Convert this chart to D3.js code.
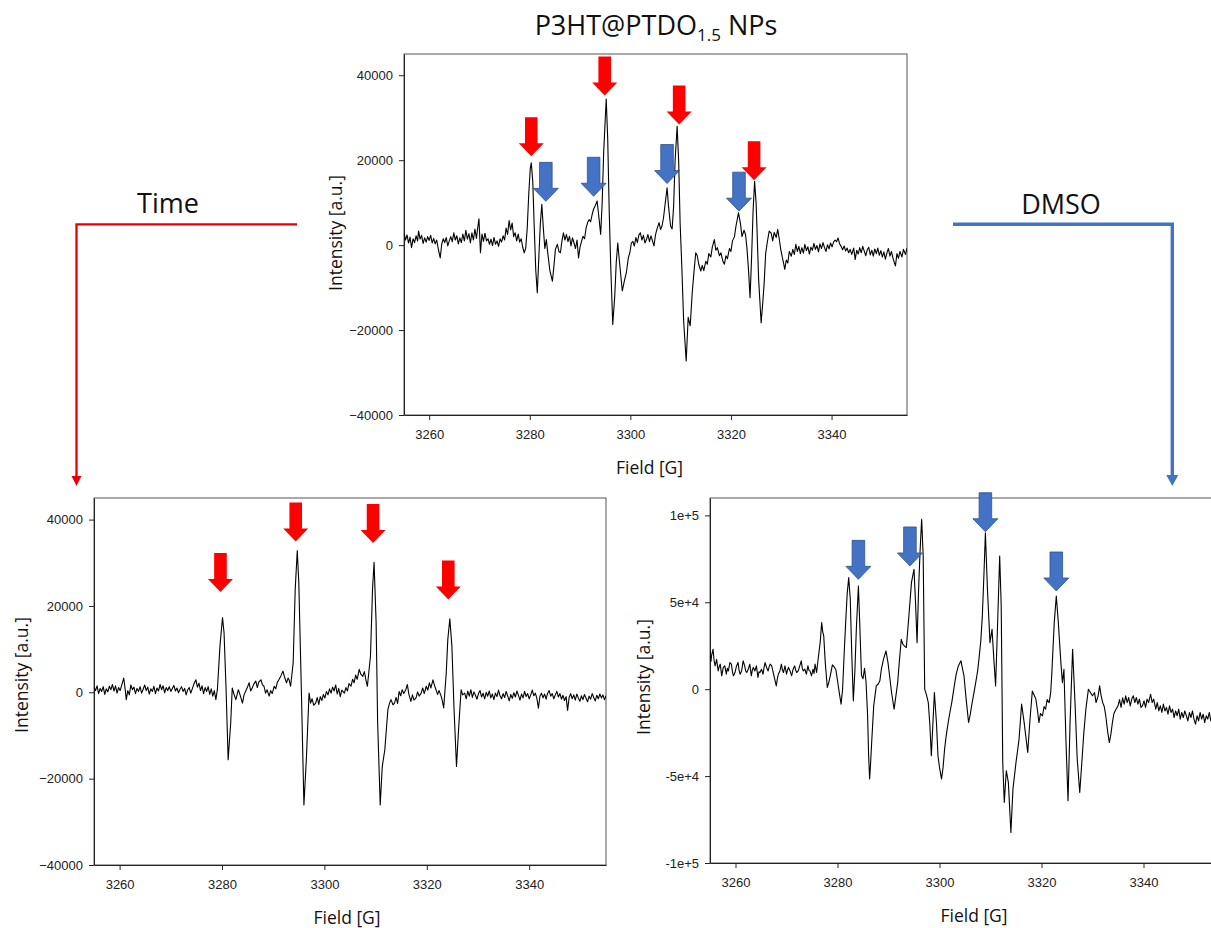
<!DOCTYPE html>
<html>
<head>
<meta charset="utf-8">
<script src="https://d3js.org/d3.v7.min.js"></script>
<style>
  body { margin: 0; background: #fff; }
  svg { display: block; }
</style>
</head>
<body>
<svg id="chart" width="1211" height="928"></svg>
<script>
// ---- data (field in G, intensity in a.u.) ----
const fieldTicks = [3260, 3280, 3300, 3320, 3340];
const npsTicks = [-40000, -20000, 0, 20000, 40000];
const dmsoTicks = [-100000, -50000, 0, 50000, 100000];
const dmsoTickLabels = ["-1e+5", "-5e+4", "0", "5e+4", "1e+5"];

// P3HT@PTDO1.5 NPs (top)
const spectrumNPs = [[3255.0,2900],[3255.3,1200],[3255.6,2400],[3255.9,500],[3256.2,1900],[3256.5,-600],[3256.8,1500],[3257.1,600],[3257.4,2200],[3257.7,1000],[3257.9,3300],[3258.2,1400],[3258.5,2300],[3258.8,400],[3259.1,1700],[3259.4,700],[3259.7,2000],[3260.0,1100],[3260.3,2300],[3260.6,500],[3260.9,1600],[3261.2,300],[3261.5,1200],[3261.8,-800],[3262.2,-3000],[3262.5,200],[3262.8,1500],[3263.1,600],[3263.4,1800],[3263.7,-200],[3264.0,1000],[3264.3,2000],[3264.6,800],[3264.9,2900],[3265.2,1200],[3265.5,2200],[3265.8,300],[3266.1,1700],[3266.4,600],[3266.7,2600],[3267.0,1000],[3267.3,3500],[3267.6,1400],[3267.9,2700],[3268.2,500],[3268.5,2900],[3268.8,1200],[3269.1,3800],[3269.4,1600],[3269.7,4500],[3269.9,6200],[3270.2,-1800],[3270.5,2600],[3270.8,900],[3271.1,2800],[3271.4,1000],[3271.7,1500],[3272.0,200],[3272.3,1400],[3272.6,-100],[3272.9,1800],[3273.2,200],[3273.5,1000],[3273.8,-300],[3274.1,1500],[3274.4,700],[3274.7,2200],[3275.0,1200],[3275.3,4000],[3275.6,2500],[3275.9,5800],[3276.2,3600],[3276.5,5200],[3276.8,2000],[3277.1,2900],[3277.4,1000],[3277.7,2600],[3278.0,700],[3278.3,1500],[3278.6,-500],[3278.9,-1800],[3279.2,-700],[3279.5,4000],[3279.8,12000],[3280.1,18000],[3280.3,19400],[3280.6,15000],[3280.9,4000],[3281.2,-6000],[3281.5,-11200],[3281.8,-3000],[3282.1,5000],[3282.4,9600],[3282.7,4000],[3283.0,-800],[3283.3,1300],[3283.6,-2000],[3284.0,-6000],[3284.5,-8500],[3284.8,-5000],[3285.1,-1000],[3285.5,200],[3285.8,-1500],[3286.1,-1800],[3286.4,1000],[3286.7,2900],[3287.0,1200],[3287.3,2500],[3287.6,800],[3287.9,2100],[3288.2,-200],[3288.5,1700],[3288.8,500],[3289.1,-800],[3289.4,1200],[3289.7,-3000],[3290.0,-400],[3290.3,900],[3290.6,2100],[3290.9,1500],[3291.2,4000],[3291.5,5300],[3291.8,6000],[3292.1,5500],[3292.4,7200],[3292.7,8500],[3293.0,9200],[3293.4,10400],[3293.8,6000],[3294.1,2500],[3294.4,10000],[3294.7,22000],[3295.2,34400],[3295.5,25000],[3295.8,8000],[3296.1,-5000],[3296.5,-18700],[3296.9,-12000],[3297.2,-4000],[3297.5,500],[3297.8,-3500],[3298.4,-10800],[3298.8,-8500],[3299.2,-6500],[3299.6,-3000],[3299.9,-1800],[3300.2,500],[3300.5,900],[3300.8,-200],[3301.1,1800],[3301.4,600],[3301.7,2400],[3302.0,2900],[3302.3,1200],[3302.6,2300],[3302.9,500],[3303.2,1300],[3303.5,2500],[3303.8,800],[3304.1,2200],[3304.4,1000],[3304.7,-200],[3305.0,2400],[3305.3,3800],[3305.7,5300],[3306.0,3700],[3306.3,4500],[3306.6,6500],[3306.9,9500],[3307.3,13500],[3307.6,9000],[3308.0,4500],[3308.3,3800],[3308.6,9000],[3308.9,20000],[3309.3,28000],[3309.6,20000],[3309.9,5000],[3310.2,-4000],[3310.6,-18000],[3311.1,-27300],[3311.5,-17000],[3311.9,-19000],[3312.3,-11200],[3312.6,-7000],[3313.0,-1800],[3313.3,-2500],[3313.6,-4500],[3314.0,-6100],[3314.3,-4800],[3314.6,-6000],[3315.0,-3800],[3315.3,-4500],[3315.6,-2000],[3316.0,-2800],[3316.3,-400],[3316.7,1300],[3317.0,-1200],[3317.3,-600],[3317.7,-2500],[3318.0,-1800],[3318.4,-3800],[3318.7,-4500],[3319.0,-2500],[3319.3,-3200],[3319.7,-800],[3320.0,-1500],[3320.3,1000],[3320.7,2000],[3321.0,4500],[3321.5,7600],[3321.9,5000],[3322.2,2000],[3322.6,3500],[3322.9,2500],[3323.2,-1000],[3323.5,-6000],[3323.8,-12400],[3324.1,-3000],[3324.4,8000],[3324.7,15000],[3325.0,10000],[3325.2,3000],[3325.5,-8000],[3326.0,-18300],[3326.3,-14000],[3326.6,-9000],[3326.9,-2000],[3327.2,500],[3327.6,3300],[3328.0,2800],[3328.3,1000],[3328.6,3000],[3329.0,1800],[3329.3,3700],[3329.6,1500],[3329.9,-1000],[3330.2,-2800],[3330.5,-4500],[3330.7,-5700],[3331.0,-3500],[3331.3,-4200],[3331.6,-1500],[3332.0,-2600],[3332.3,-1000],[3332.6,-2200],[3332.9,200],[3333.2,-1500],[3333.5,-300],[3333.8,-2000],[3334.1,-600],[3334.4,-1900],[3334.7,200],[3335.0,-1300],[3335.3,-400],[3335.6,-2100],[3335.9,-500],[3336.2,-1200],[3336.5,400],[3336.8,-1000],[3337.1,-100],[3337.4,-1600],[3337.7,300],[3338.0,-800],[3338.3,600],[3338.6,-600],[3338.9,-1500],[3339.2,100],[3339.5,-900],[3339.8,500],[3340.1,-400],[3340.4,700],[3340.7,1200],[3341.0,800],[3341.3,1700],[3341.6,300],[3341.9,-300],[3342.2,-1100],[3342.5,-200],[3342.8,-1400],[3343.1,-700],[3343.4,-1800],[3343.7,-1000],[3344.0,-2200],[3344.4,-700],[3344.7,-3400],[3345.0,-1200],[3345.3,-2100],[3345.6,-600],[3345.9,-1800],[3346.2,-300],[3346.5,-1400],[3346.8,-2500],[3347.1,-1100],[3347.4,-500],[3347.7,-2300],[3348.0,-1200],[3348.3,-2600],[3348.6,-900],[3348.9,-2000],[3349.2,-700],[3349.5,-2400],[3349.8,-1300],[3350.1,-2800],[3350.4,-1600],[3350.7,-3300],[3351.0,-1900],[3351.3,-800],[3351.6,-2600],[3351.9,-1500],[3352.2,-3000],[3352.5,-4200],[3352.7,-4900],[3353.0,-2000],[3353.3,-3100],[3353.6,-1500],[3354.0,-2800],[3354.3,-1000],[3354.7,-2200],[3355.0,-700]];

// after time (bottom left)
const spectrumTime = [[3255.0,1200],[3255.3,400],[3255.6,1500],[3255.9,-300],[3256.2,900],[3256.5,200],[3256.8,1300],[3257.1,-500],[3257.4,800],[3257.7,100],[3258.0,1400],[3258.3,600],[3258.6,1800],[3258.9,300],[3259.2,1500],[3259.5,-200],[3259.8,1100],[3260.1,400],[3260.5,2000],[3260.8,3300],[3261.1,600],[3261.3,-1700],[3261.6,400],[3261.9,-600],[3262.2,1700],[3262.5,600],[3262.8,1200],[3263.1,-300],[3263.4,900],[3263.7,200],[3264.0,1300],[3264.3,-200],[3264.6,700],[3264.9,1700],[3265.2,400],[3265.5,1200],[3265.8,-400],[3266.1,800],[3266.4,200],[3266.7,1400],[3267.0,-300],[3267.3,1000],[3267.6,300],[3267.9,1800],[3268.2,600],[3268.5,1500],[3268.8,-100],[3269.1,1100],[3269.4,400],[3269.7,1300],[3270.0,200],[3270.3,900],[3270.6,1600],[3270.9,300],[3271.2,1000],[3271.5,-100],[3271.8,700],[3272.1,1300],[3272.4,200],[3272.7,900],[3273.0,-600],[3273.3,600],[3273.6,1100],[3273.9,-200],[3274.2,800],[3274.5,1900],[3274.9,2900],[3275.2,1200],[3275.5,2100],[3275.8,400],[3276.1,1500],[3276.4,-300],[3276.7,1100],[3277.0,200],[3277.3,1300],[3277.6,-500],[3277.9,800],[3278.2,-900],[3278.5,400],[3278.8,-1700],[3279.1,600],[3279.6,10700],[3280.1,17300],[3280.4,13800],[3280.8,600],[3281.2,-15600],[3281.7,-7100],[3282.0,1000],[3282.3,-300],[3282.7,-1700],[3283.2,600],[3283.6,-900],[3284.0,-2500],[3284.3,-600],[3284.6,200],[3285.0,1300],[3285.3,2200],[3285.6,300],[3285.9,1000],[3286.2,1900],[3286.6,2600],[3286.9,1100],[3287.2,2400],[3287.6,2900],[3287.9,1700],[3288.2,1400],[3288.5,-200],[3288.8,600],[3289.2,-900],[3289.5,400],[3289.8,-300],[3290.2,1400],[3290.5,800],[3290.8,2300],[3291.1,2900],[3291.5,3800],[3291.9,4900],[3292.2,3600],[3292.6,2200],[3292.9,3300],[3293.1,2900],[3293.4,1400],[3293.9,6800],[3294.3,23900],[3294.7,32800],[3295.0,25400],[3295.5,600],[3296.0,-26100],[3296.5,-14900],[3297.0,-200],[3297.3,-2500],[3297.6,-1500],[3297.9,-3000],[3298.3,-2500],[3298.6,-1200],[3298.9,-2800],[3299.2,-1000],[3299.5,-1900],[3299.8,-500],[3300.1,-1300],[3300.4,200],[3300.7,-600],[3301.0,800],[3301.3,-200],[3301.6,1200],[3301.9,300],[3302.2,1700],[3302.5,-400],[3302.8,900],[3303.1,-1000],[3303.4,500],[3303.9,-200],[3304.2,1100],[3304.5,300],[3304.8,2000],[3305.2,1400],[3305.5,3000],[3305.8,2200],[3306.1,4000],[3306.4,3000],[3306.8,5300],[3307.1,4200],[3307.5,3700],[3307.8,4800],[3308.1,2900],[3308.4,1400],[3309.0,8400],[3309.4,23900],[3309.7,30100],[3310.1,16100],[3310.4,-7100],[3310.9,-26100],[3311.3,-17200],[3311.8,-13300],[3312.4,-4000],[3312.7,-2600],[3313.0,-1700],[3313.4,-2900],[3313.7,-2500],[3314.0,-1200],[3314.3,-2600],[3314.6,200],[3314.9,-800],[3315.2,600],[3315.5,-300],[3315.9,600],[3316.2,1800],[3316.5,-500],[3316.9,-2100],[3317.2,-600],[3317.5,-1800],[3317.9,-1300],[3318.2,100],[3318.5,-900],[3318.9,-200],[3319.2,1000],[3319.5,-300],[3319.9,1400],[3320.2,500],[3320.5,2200],[3320.8,1000],[3321.2,2900],[3321.5,1600],[3321.8,600],[3322.1,-500],[3322.4,400],[3322.8,-900],[3323.0,-1800],[3323.3,-3600],[3323.8,4500],[3324.1,12200],[3324.5,17000],[3324.9,10700],[3325.3,-3300],[3325.8,-17200],[3326.2,-8700],[3326.7,600],[3327.0,-600],[3327.4,-200],[3327.7,-1500],[3328.0,300],[3328.3,-900],[3328.6,600],[3328.9,-1200],[3329.2,100],[3329.5,-700],[3329.8,-1600],[3330.1,-300],[3330.4,400],[3330.7,-1100],[3331.0,-200],[3331.3,-1500],[3331.6,0],[3331.9,-900],[3332.2,300],[3332.5,-1300],[3332.8,-400],[3333.1,-1700],[3333.4,-200],[3333.7,-1000],[3334.0,500],[3334.3,-800],[3334.6,-1500],[3334.9,-300],[3335.2,-1200],[3335.5,200],[3335.8,-900],[3336.1,-2000],[3336.4,-500],[3336.7,-1400],[3337.0,-100],[3337.3,-1100],[3337.6,300],[3337.9,-700],[3338.2,-1800],[3338.5,-400],[3338.8,-1300],[3339.1,200],[3339.4,-1000],[3339.7,-300],[3340.0,-1500],[3340.3,-600],[3340.6,500],[3340.9,-800],[3341.2,-200],[3341.5,-1400],[3341.8,-3700],[3342.1,-900],[3342.4,-200],[3342.7,-1300],[3343.0,-400],[3343.3,-1600],[3343.6,-200],[3343.9,400],[3344.2,-900],[3344.5,-300],[3344.8,-1500],[3345.1,-600],[3345.4,200],[3345.7,-1100],[3346.0,-300],[3346.3,-1600],[3346.6,-700],[3346.9,-1900],[3347.2,-1000],[3347.5,-4200],[3347.8,-1200],[3348.1,-300],[3348.4,-1500],[3348.7,-600],[3349.0,-1800],[3349.3,-400],[3349.6,-1300],[3349.9,-2100],[3350.2,-800],[3350.5,-1700],[3350.8,-500],[3351.1,-1400],[3351.4,-2200],[3351.7,-900],[3352.0,-1600],[3352.3,-300],[3352.6,-1200],[3352.9,-2000],[3353.2,-700],[3353.5,-1500],[3353.8,-400],[3354.1,-1300],[3354.4,-600],[3354.7,-1700],[3355.0,-800]];

// after DMSO (bottom right)
const spectrumDMSO = [[3255.0,22000],[3255.2,16000],[3255.3,19200],[3255.6,23000],[3255.8,16500],[3256.0,13400],[3256.3,17200],[3256.6,10500],[3256.8,13000],[3257.0,14400],[3257.3,7700],[3257.6,12500],[3257.9,13400],[3258.2,8600],[3258.4,12000],[3258.6,10500],[3258.9,15300],[3259.2,14400],[3259.4,10000],[3259.6,7700],[3259.9,9600],[3260.2,13400],[3260.5,15300],[3260.7,11000],[3260.9,8600],[3261.2,10500],[3261.5,16300],[3261.8,13400],[3262.0,10500],[3262.2,9600],[3262.5,11500],[3262.8,14400],[3263.1,7700],[3263.3,11000],[3263.5,12500],[3263.8,10500],[3264.1,13400],[3264.4,6700],[3264.6,10000],[3264.8,9600],[3265.1,11500],[3265.4,8600],[3265.6,12500],[3265.8,15300],[3266.1,12500],[3266.4,10500],[3266.6,13000],[3266.8,14400],[3267.1,13400],[3267.4,9600],[3267.7,5700],[3268.0,1900],[3268.2,6000],[3268.4,8600],[3268.7,10500],[3269.0,14400],[3269.2,11000],[3269.4,9600],[3269.7,13400],[3270.0,8600],[3270.2,11000],[3270.4,12500],[3270.7,10500],[3271.0,7700],[3271.3,11500],[3271.6,13400],[3271.8,11000],[3272.0,9600],[3272.3,10500],[3272.6,13400],[3272.9,16300],[3273.1,12000],[3273.3,10500],[3273.6,11500],[3273.9,8600],[3274.2,13400],[3274.4,11000],[3274.6,10500],[3274.9,7700],[3275.2,11500],[3275.4,9000],[3275.6,14400],[3275.9,9600],[3276.2,17200],[3276.6,26800],[3276.9,38300],[3277.1,33000],[3277.3,30700],[3277.6,15300],[3278.0,1000],[3278.3,4000],[3278.6,8000],[3279.0,14000],[3279.3,13000],[3279.7,11000],[3280.0,5000],[3280.4,-3000],[3280.7,-8600],[3281.0,0],[3281.3,20000],[3281.6,38300],[3281.9,55000],[3282.2,64200],[3282.5,52000],[3282.8,20000],[3283.1,-6700],[3283.4,10000],[3283.7,35000],[3284.1,59400],[3284.4,34500],[3284.7,8000],[3285.0,6000],[3285.3,12000],[3285.6,4000],[3285.9,-15000],[3286.1,-38000],[3286.3,-51700],[3286.5,-42000],[3286.7,-30700],[3287.1,-9600],[3287.6,1900],[3288.0,3000],[3288.3,4800],[3288.6,11500],[3289.0,17000],[3289.5,22000],[3289.9,15300],[3290.2,8000],[3290.6,-1900],[3291.1,-11500],[3291.4,-5000],[3291.8,3800],[3292.1,15000],[3292.5,28700],[3292.8,26000],[3293.1,24900],[3293.5,24000],[3294.0,42200],[3294.5,61300],[3295.0,69000],[3295.3,49800],[3295.6,26800],[3295.9,57500],[3296.2,80000],[3296.5,97700],[3296.8,76600],[3297.1,0],[3297.5,-3800],[3297.8,-7700],[3298.1,-20000],[3298.4,-38300],[3298.7,-20000],[3299.0,-1900],[3299.4,-19200],[3299.7,-38300],[3300.0,-45000],[3300.4,-51700],[3300.7,-45000],[3301.0,-34500],[3301.3,-27000],[3301.7,-19200],[3302.0,-14000],[3302.4,-7700],[3302.7,-2000],[3303.0,3800],[3303.3,9000],[3303.7,13400],[3304.2,16300],[3304.5,12000],[3304.8,7700],[3305.2,-5000],[3305.7,-19200],[3306.0,-15000],[3306.4,-7700],[3306.7,-3000],[3307.1,3800],[3307.5,11000],[3307.8,19200],[3308.1,28000],[3308.4,42200],[3308.7,65000],[3309.0,90000],[3309.4,57500],[3309.9,26800],[3310.3,34500],[3310.7,15300],[3311.0,1900],[3311.4,38300],[3311.8,76600],[3312.1,47900],[3312.4,-42100],[3312.7,-65100],[3313.1,-46900],[3313.5,-53600],[3314.0,-82400],[3314.4,-57500],[3315.0,-42100],[3315.6,-28700],[3316.1,-8600],[3316.6,-19200],[3317.3,-36400],[3317.7,-19200],[3318.2,-1000],[3318.5,-3000],[3318.9,-5700],[3319.2,-12000],[3319.5,-19200],[3319.8,-14000],[3320.2,-15300],[3320.5,-10000],[3320.8,-11500],[3321.1,-6000],[3321.5,-7700],[3321.8,-2000],[3322.0,7700],[3322.5,38300],[3322.9,53600],[3323.3,38300],[3323.8,15300],[3324.1,3800],[3324.4,11500],[3324.8,-30000],[3325.2,-64200],[3325.6,-19200],[3326.1,23000],[3326.6,-9600],[3327.0,-40000],[3327.5,-59400],[3328.0,-38300],[3328.3,-25000],[3328.7,-11500],[3329.2,0],[3329.6,-1900],[3330.0,-3800],[3330.4,-1900],[3330.7,-7700],[3331.1,-3800],[3331.4,1900],[3331.7,-3800],[3332.0,-7700],[3332.3,-10000],[3332.6,-15300],[3333.0,-25000],[3333.3,-30700],[3333.6,-26000],[3333.9,-19200],[3334.2,-14000],[3334.6,-11500],[3335.0,-9600],[3335.3,-6000],[3335.6,-10500],[3335.9,-5000],[3336.2,-8600],[3336.5,-3800],[3336.8,-7700],[3337.1,-4800],[3337.4,-9600],[3337.7,-5700],[3338.0,-3800],[3338.3,-7700],[3338.6,-4800],[3338.9,-8600],[3339.2,-5700],[3339.5,-10500],[3339.8,-9600],[3340.1,-6700],[3340.4,-10500],[3340.7,-5700],[3341.0,-7700],[3341.4,-2900],[3341.7,-7700],[3342.0,-5700],[3342.4,-11500],[3342.7,-7700],[3343.0,-12500],[3343.3,-9600],[3343.6,-13400],[3343.9,-8600],[3344.2,-12500],[3344.5,-10500],[3344.8,-14400],[3345.1,-9600],[3345.4,-13400],[3345.7,-11500],[3346.0,-16300],[3346.3,-12500],[3346.6,-15300],[3346.9,-11500],[3347.2,-17200],[3347.5,-13400],[3347.8,-16300],[3348.1,-12500],[3348.4,-15300],[3348.7,-18200],[3349.0,-13400],[3349.3,-16300],[3349.6,-12500],[3349.9,-17200],[3350.2,-20100],[3350.5,-15300],[3350.8,-18200],[3351.1,-13400],[3351.4,-17200],[3351.7,-14400],[3352.0,-19200],[3352.3,-15300],[3352.6,-17200],[3352.9,-13400],[3353.2,-18200],[3353.5,-14400],[3353.9,-16300],[3354.2,-12500],[3354.6,-15300],[3355.0,-13400]];

// block arrows: [field, intensity at the tip]
const arrowsNPsRed = [[3280.3, 20900], [3294.9, 35200], [3309.7, 28400], [3324.6, 15300]];
const arrowsNPsBlue = [[3283.2, 10300], [3292.7, 11500], [3307.3, 14500], [3321.6, 8000]];
const arrowsTimeRed = [[3279.7, 23250], [3294.4, 34900], [3309.5, 34600], [3324.2, 21500]];
const arrowsDMSOBlue = [[3284.1, 63200], [3294.2, 70900], [3309.0, 90600], [3322.9, 56500]];

const RED = "#ff0000";
const BLUE = "#4472c4";
const textFont = "'Open Sans', sans-serif";
const tickFont = "'Liberation Sans', Arial, sans-serif";

const svg = d3.select("#chart");
const fieldDomain = [3255, 3355];

function blockArrow(g, x, y, color, stroke) {
  const sw = 6.3, hw = 12.5, hh = 13, len = 39;
  const p = d3.path();
  p.moveTo(x - sw, y - len);
  p.lineTo(x + sw, y - len);
  p.lineTo(x + sw, y - hh);
  p.lineTo(x + hw, y - hh);
  p.lineTo(x, y);
  p.lineTo(x - hw, y - hh);
  p.lineTo(x - sw, y - hh);
  p.closePath();
  g.append("path").attr("d", p.toString())
    .attr("fill", color)
    .attr("stroke", stroke || "none")
    .attr("stroke-width", 0.8);
}

function drawPanel(cfg) {
  const x = d3.scaleLinear().domain(fieldDomain).range([cfg.left, cfg.right]);
  const y = d3.scaleLinear().domain(cfg.yDomain).range([cfg.bottom, cfg.top]);
  const g = svg.append("g");

  g.append("clipPath").attr("id", cfg.id + "-clip")
    .append("rect")
    .attr("x", cfg.left).attr("y", cfg.top)
    .attr("width", cfg.right - cfg.left).attr("height", cfg.bottom - cfg.top);

  // frame
  g.append("rect")
    .attr("x", cfg.left).attr("y", cfg.top)
    .attr("width", cfg.right - cfg.left).attr("height", cfg.bottom - cfg.top)
    .attr("fill", "none").attr("stroke", "#555").attr("stroke-width", 1);

  const xAxis = d3.axisBottom(x).tickValues(fieldTicks).tickFormat(d3.format("d"))
    .tickSize(5).tickSizeOuter(0).tickPadding(10);
  const yAxis = d3.axisLeft(y).tickValues(cfg.yTicks).tickSize(5).tickSizeOuter(0).tickPadding(6)
    .tickFormat(cfg.yLabels ? (d, i) => cfg.yLabels[i] : d3.format("d"));

  const gx = g.append("g").attr("transform", `translate(0,${cfg.bottom})`).call(xAxis);
  const gy = g.append("g").attr("transform", `translate(${cfg.left},0)`).call(yAxis);
  [gx, gy].forEach(a => {
    a.selectAll("text").attr("font-family", tickFont).attr("font-size", 13).attr("fill", "#222");
    a.selectAll("line, path").attr("stroke", "#222");
  });

  const line = d3.line().x(d => x(d[0])).y(d => y(d[1]));
  g.append("path").datum(cfg.data)
    .attr("clip-path", `url(#${cfg.id}-clip)`)
    .attr("d", line)
    .attr("fill", "none").attr("stroke", "#000").attr("stroke-width", 1.1)
    .attr("stroke-linejoin", "round");

  cfg.arrows.forEach(set => {
    set.points.forEach(d => blockArrow(g, x(d[0]), y(d[1]), set.color, set.stroke));
  });

  g.append("text")
    .attr("x", (cfg.left + cfg.right) / 2 + cfg.fieldDx).attr("y", cfg.bottom + 59)
    .attr("text-anchor", "middle")
    .attr("font-family", textFont).attr("font-size", 17.5).attr("fill", "#111")
    .text("Field [G]");

  g.append("text")
    .attr("transform", `translate(${cfg.ylabX},${cfg.ylabY}) rotate(-90)`)
    .attr("text-anchor", "middle").attr("dy", "0.35em")
    .attr("font-family", textFont).attr("font-size", 17.5).attr("fill", "#111")
    .text("Intensity [a.u.]");
}

drawPanel({
  id: "nps", left: 404, right: 907, top: 54, bottom: 415,
  yDomain: [-40000, 45000], yTicks: npsTicks, data: spectrumNPs,
  arrows: [{points: arrowsNPsRed, color: RED}, {points: arrowsNPsBlue, color: BLUE, stroke: "#2f528f"}],
  ylabX: 336, ylabY: 233, fieldDx: -6
});

drawPanel({
  id: "time", left: 94, right: 606, top: 498, bottom: 865,
  yDomain: [-40000, 45000], yTicks: npsTicks, data: spectrumTime,
  arrows: [{points: arrowsTimeRed, color: RED}],
  ylabX: 22, ylabY: 675, fieldDx: -3
});

drawPanel({
  id: "dmso", left: 710, right: 1220, top: 498, bottom: 863,
  yDomain: [-100000, 110000], yTicks: dmsoTicks, yLabels: dmsoTickLabels, data: spectrumDMSO,
  arrows: [{points: arrowsDMSOBlue, color: BLUE, stroke: "#2f528f"}],
  ylabX: 644, ylabY: 677, fieldDx: 9
});

// title with subscript
const title = svg.append("text")
  .attr("x", 656).attr("y", 35)
  .attr("text-anchor", "middle")
  .attr("font-family", textFont).attr("font-size", 27).attr("fill", "#111");
title.append("tspan").text("P3HT@PTDO");
title.append("tspan").attr("font-size", 17).attr("dy", 6).text("1.5");
title.append("tspan").attr("dy", -6).text(" NPs");

// connectors
function connector(points, color, width, head) {
  svg.append("path")
    .attr("d", d3.line()(points))
    .attr("fill", "none").attr("stroke", color).attr("stroke-width", width)
    .attr("stroke-linejoin", "miter");
  const end = points[points.length - 1];
  svg.append("path")
    .attr("d", d3.line()([[end[0] - head.w / 2, end[1]], [end[0] + head.w / 2, end[1]], [end[0], end[1] + head.h]]) + "Z")
    .attr("fill", color);
}
connector([[297, 224.3], [76.5, 224.3], [76.5, 476]], "#e60000", 2.3, {w: 10, h: 10});
connector([[953, 224.3], [1172.3, 224.3], [1172.3, 475]], BLUE, 3.4, {w: 12, h: 11});

svg.append("text").attr("x", 168).attr("y", 213)
  .attr("text-anchor", "middle").attr("font-family", textFont).attr("font-size", 27).attr("fill", "#111")
  .text("Time");
svg.append("text").attr("x", 1061).attr("y", 214)
  .attr("text-anchor", "middle").attr("font-family", textFont).attr("font-size", 27).attr("fill", "#111")
  .text("DMSO");
</script>
</body>
</html>
